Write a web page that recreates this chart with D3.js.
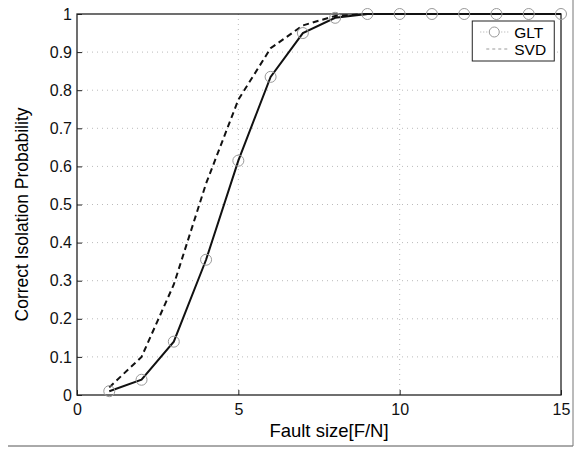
<!DOCTYPE html>
<html>
<head>
<meta charset="utf-8">
<script src="https://cdn.jsdelivr.net/npm/d3@7"></script>
<style>
  body { margin: 0; background: #fff; }
  text { font-family: "Liberation Sans", Arial, sans-serif; }
</style>
</head>
<body>
<div id="chart"></div>
<script>
// values
var faultSize = [1, 2, 3, 4, 5, 6, 7, 8, 9, 10, 11, 12, 13, 14, 15];
var glt = [0.01, 0.04, 0.14, 0.355, 0.615, 0.835, 0.95, 0.99, 1, 1, 1, 1, 1, 1, 1];
var svd = [0.02, 0.10, 0.29, 0.555, 0.775, 0.91, 0.97, 0.995, 1, 1, 1, 1, 1, 1, 1];
var xTicks = [0, 5, 10, 15];
var yTicks = [0, 0.1, 0.2, 0.3, 0.4, 0.5, 0.6, 0.7, 0.8, 0.9, 1];
var seriesNames = ["GLT", "SVD"];

var W = 577, H = 450;
var margin = {top: 14, right: 16, bottom: 55, left: 77};
var width = W - margin.left - margin.right,
    height = H - margin.top - margin.bottom;

var root = d3.select("#chart").append("svg")
    .attr("width", W)
    .attr("height", H);

// outer figure frame (bottom and right only, like the scan)
root.append("line")
    .attr("x1", 8).attr("x2", 573).attr("y1", 446).attr("y2", 446)
    .style("stroke", "#555").style("stroke-width", 1);
root.append("line")
    .attr("x1", 573).attr("x2", 573).attr("y1", 0).attr("y2", 446)
    .style("stroke", "#777").style("stroke-width", 1);

var svg = root.append("g")
    .attr("transform", "translate(" + margin.left + "," + margin.top + ")");

var xScale = d3.scaleLinear().domain([0, 15]).range([0, width]);
var yScale = d3.scaleLinear().domain([0, 1]).range([height, 0]);

// grid
svg.selectAll("line.gx")
    .data(xTicks.slice(1, -1))
    .enter().append("line")
    .attr("class", "gx")
    .attr("x1", function (d) { return xScale(d); })
    .attr("x2", function (d) { return xScale(d); })
    .attr("y1", 0).attr("y2", height)
    .style("stroke", "#bbb").style("stroke-width", 1)
    .style("stroke-dasharray", "1,4");

svg.selectAll("line.gy")
    .data(yTicks.slice(1, -1))
    .enter().append("line")
    .attr("class", "gy")
    .attr("x1", 0).attr("x2", width)
    .attr("y1", function (d) { return yScale(d); })
    .attr("y2", function (d) { return yScale(d); })
    .style("stroke", "#bbb").style("stroke-width", 1)
    .style("stroke-dasharray", "1,4");

// axes, ticks pointing inward
var xAxis = svg.append("g")
    .attr("transform", "translate(0," + height + ")")
    .call(d3.axisBottom(xScale).tickValues(xTicks).tickSize(-5).tickPadding(9)
        .tickFormat(d3.format("d")));
var yAxis = svg.append("g")
    .call(d3.axisLeft(yScale).tickValues(yTicks).tickSize(-5).tickPadding(5)
        .tickFormat(function (d) { return d === 0 || d === 1 ? d : d3.format(".1f")(d); }));

[xAxis, yAxis].forEach(function (a) {
    a.select(".domain").remove();
    a.selectAll("line").style("stroke", "#222");
    a.selectAll("text").style("font-size", "16px").style("fill", "#111");
});

svg.append("rect")
    .attr("width", width).attr("height", height)
    .style("fill", "none").style("stroke", "#222").style("stroke-width", 1.3);

// lines
var line = d3.line()
    .x(function (d) { return xScale(d[0]); })
    .y(function (d) { return yScale(d[1]); });

var gltData = faultSize.map(function (d, i) { return [d, glt[i]]; });
var svdData = faultSize.map(function (d, i) { return [d, svd[i]]; });

svg.append("path")
    .datum(svdData)
    .attr("d", line)
    .style("fill", "none").style("stroke", "#111").style("stroke-width", 2)
    .style("stroke-dasharray", "6,4");

svg.append("path")
    .datum(gltData)
    .attr("d", line)
    .style("fill", "none").style("stroke", "#111").style("stroke-width", 2);

svg.selectAll("circle.glt")
    .data(gltData)
    .enter().append("circle")
    .attr("class", "glt")
    .attr("cx", function (d) { return xScale(d[0]); })
    .attr("cy", function (d) { return yScale(d[1]); })
    .attr("r", 5.5)
    .style("fill", "none").style("stroke", "#999").style("stroke-width", 1);

// axis labels
svg.append("text")
    .attr("x", width / 2 + 10)
    .attr("y", height + 42)
    .attr("text-anchor", "middle")
    .style("font-size", "18.5px")
    .text("Fault size[F/N]");

svg.append("text")
    .attr("transform", "translate(" + (-49) + "," + (height / 2 + 10) + ") rotate(-90)")
    .attr("text-anchor", "middle")
    .style("font-size", "17.5px")
    .text("Correct Isolation Probability");

// legend
var lg = svg.append("g")
    .attr("transform", "translate(" + (xScale(12.25)) + "," + 7 + ")");
lg.append("rect")
    .attr("width", 82).attr("height", 40)
    .style("fill", "#fff").style("stroke", "#222").style("stroke-width", 1);

lg.selectAll("text.lg")
    .data(seriesNames)
    .enter().append("text")
    .attr("class", "lg")
    .attr("x", 42)
    .attr("y", function (d, i) { return 17 + i * 17; })
    .style("font-size", "15.5px")
    .text(function (d) { return d; });

lg.append("line")
    .attr("x1", 8).attr("x2", 36).attr("y1", 11).attr("y2", 11)
    .style("stroke", "#aaa").style("stroke-width", 1).style("stroke-dasharray", "1,2");
lg.append("circle")
    .attr("cx", 22).attr("cy", 11).attr("r", 5)
    .style("fill", "#fff").style("stroke", "#999").style("stroke-width", 1);
lg.append("line")
    .attr("x1", 14).attr("x2", 36).attr("y1", 28).attr("y2", 28)
    .style("stroke", "#999").style("stroke-width", 1).style("stroke-dasharray", "3,3");
</script>
</body>
</html>
